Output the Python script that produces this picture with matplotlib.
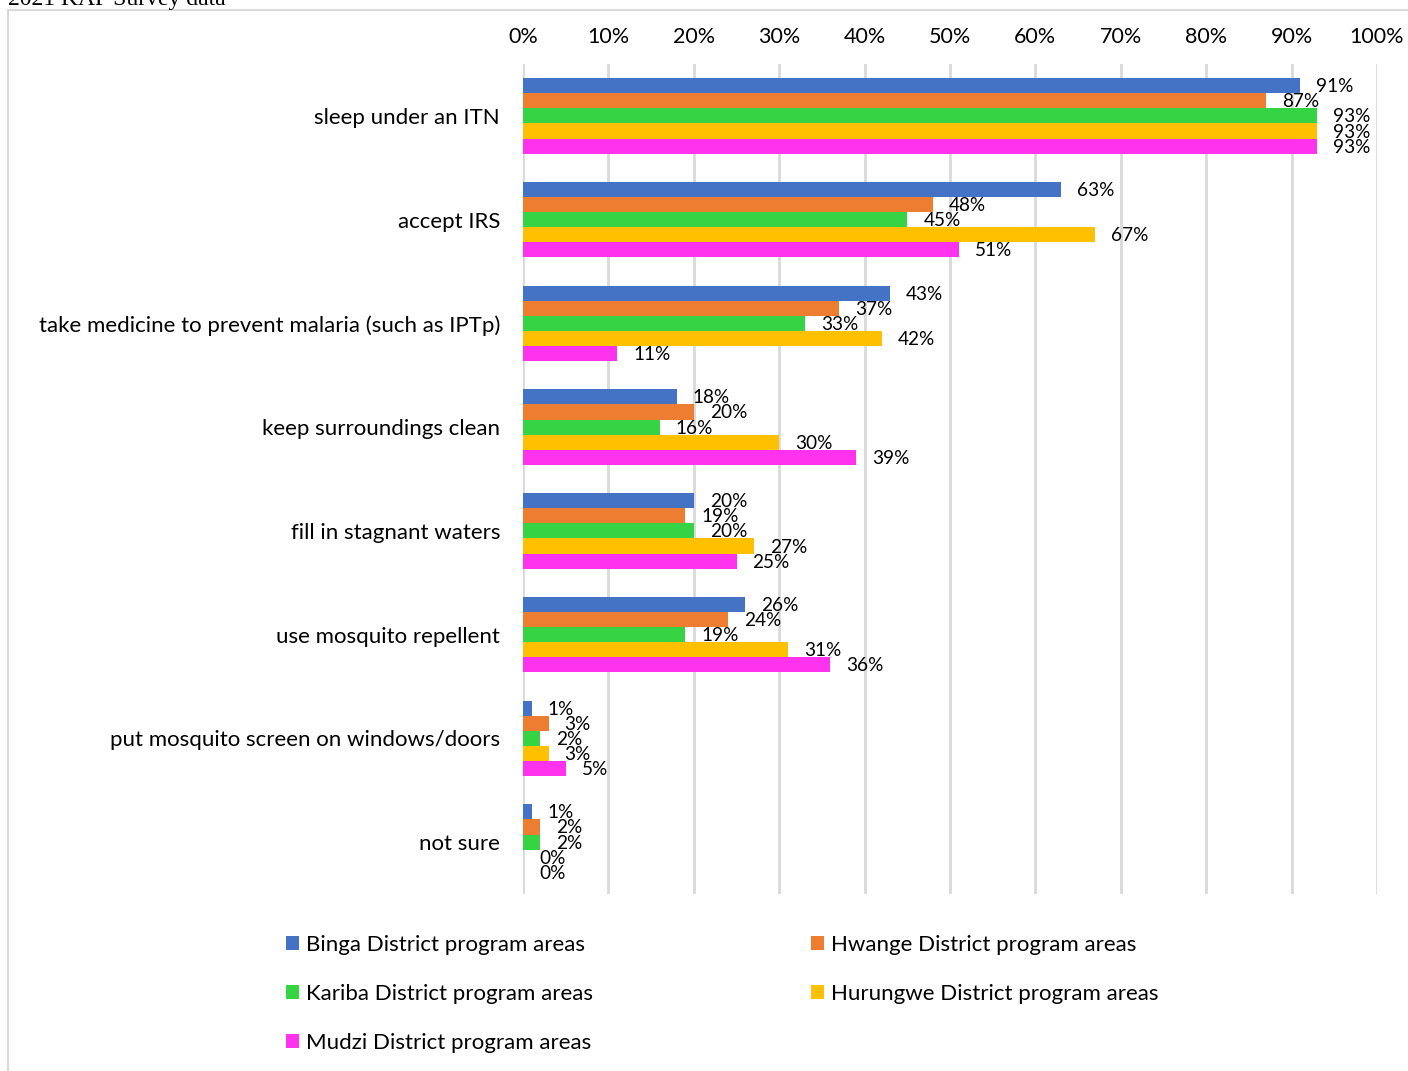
import matplotlib
matplotlib.use("Agg")
import matplotlib.pyplot as plt
import numpy as np

categories = ["sleep under an ITN", "accept IRS",
              "take medicine to prevent malaria (such as IPTp)",
              "keep surroundings clean", "fill in stagnant waters",
              "use mosquito repellent", "put mosquito screen on windows/doors",
              "not sure"]
series_names = ["Binga District program areas", "Hwange District program areas",
                "Kariba District program areas", "Hurungwe District program areas",
                "Mudzi District program areas"]
binga = [91, 63, 43, 18, 20, 26, 1, 1]
hwange = [87, 48, 37, 20, 19, 24, 3, 2]
kariba = [93, 45, 33, 16, 20, 19, 2, 2]
hurungwe = [93, 67, 42, 30, 27, 31, 3, 0]
mudzi = [93, 51, 11, 39, 25, 36, 5, 0]
xticks = [0, 10, 20, 30, 40, 50, 60, 70, 80, 90, 100]

series = [binga, hwange, kariba, hurungwe, mudzi]
colors = ["#4472C4", "#ED7D31", "#36D344", "#FFC000", "#FF33EE"]

FONT = "Lato"
plt.rcParams['font.family'] = [FONT, 'DejaVu Sans']

fig = plt.figure(figsize=(14.08, 10.71), dpi=100)
ax = fig.add_axes([523/1408, 1-894/1071, 854/1408, 830/1071])

y = np.arange(len(categories))
bh = 0.146
for i, (vals, c, name) in enumerate(zip(series, colors, series_names)):
    pos = y + (i - 2) * bh
    ax.barh(pos, vals, height=bh, color=c, label=name, zorder=3)
    for p, v in zip(pos, vals):
        ax.annotate(f"{v}%", (v, p), xytext=(16, -1), textcoords="offset pixels",
                    ha="left", va="center", fontsize=13.7, color="black", zorder=4)

ax.set_xlim(0, 100)
ax.set_ylim(len(categories) - 0.5, -0.5)
ax.set_xticks(xticks)
ax.set_xticklabels([f"{t}%" for t in xticks], fontsize=15.5)
ax.xaxis.tick_top()
ax.tick_params(axis="x", length=0, pad=12)
ax.set_yticks(y)
ax.set_yticklabels(categories, fontsize=16)
ax.tick_params(axis="y", length=0, pad=16.5)
ax.grid(axis="x", color="#D9D9D9", linewidth=2, zorder=0)
for s in ax.spines.values():
    s.set_visible(False)

handles, labels = ax.get_legend_handles_labels()
order = [0, 2, 4, 1, 3]
leg = fig.legend([handles[k] for k in order], [labels[k] for k in order],
                 ncol=2, loc="upper left", bbox_to_anchor=(266/1408, 1-915/1071),
                 frameon=False, fontsize=16, handlelength=0.6, handleheight=0.6,
                 handletextpad=0.3, labelspacing=1.31, columnspacing=9.8)

# outer frame
fig.add_artist(plt.Line2D([8/1408, 1], [1-10/1071, 1-10/1071], color="#D9D9D9", lw=1.5))
fig.add_artist(plt.Line2D([8/1408, 8/1408], [0, 1-10/1071], color="#D9D9D9", lw=1.5))
fig.text(8/1408, 1-5/1071, "2021 KAP Survey data", family="Liberation Serif",
         fontsize=17, va="baseline", ha="left")

fig.savefig("out.png", dpi=100)
